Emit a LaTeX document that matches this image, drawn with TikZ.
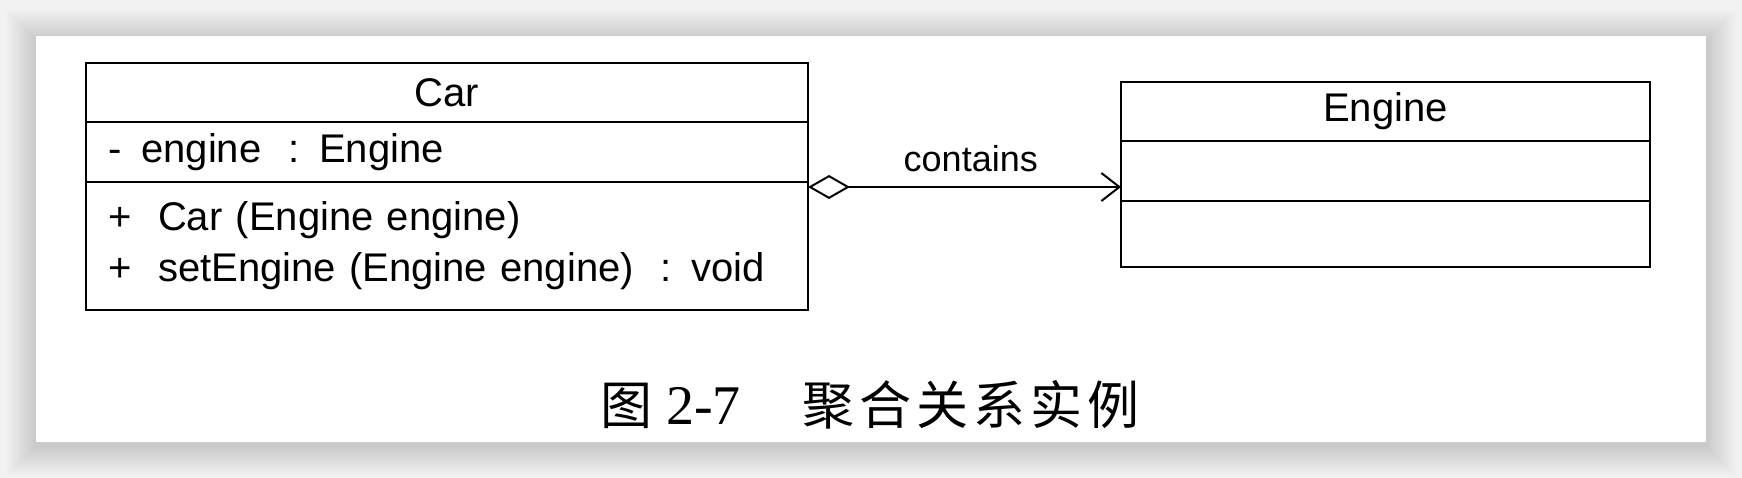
\documentclass[tikz,border=0pt]{standalone}
\usepackage{fontspec}
\setmainfont{Liberation Sans}
\newfontfamily\cjk{Noto Sans CJK SC}
\newfontfamily\capnum{Liberation Serif}
\usetikzlibrary{positioning,arrows.meta}

\newcommand{\cjkgap}{\hspace{5pt}}

\tikzset{
  umlpart/.style={draw, line width=2pt, outer sep=0pt, inner sep=0pt,
    font=\fontsize{40}{51}\selectfont},
  umlhead/.style={umlpart, minimum height=59pt},
  umlbody/.style={umlpart, align=left, inner xsep=22pt},
  aggr/.style={line width=2pt,
    {Diamond[open, fill=white, length=42pt, width=24pt]}-{Straight Barb[length=18pt, width=28pt]}}
}

\begin{document}
\begin{tikzpicture}[x=1pt, y=-1pt]
  % Page
  \useasboundingbox (0,0) rectangle (1742,478);
  \fill[black!5] (0,0) rectangle (1742,478);
  \foreach \r in {1,...,20} {
    \fill[black, opacity=0.009] (36-1.5*\r,36-1.5*\r+4) rectangle (1706+1.5*\r,442+1.5*\r+4);
  }
  \fill[white] (36,36) rectangle (1706,442);
  % Car
  \node[umlhead, minimum width=722pt, anchor=north west] (carhead) at (86,63) {Car};
  \node[umlbody, text width=678pt, minimum height=60pt, below=0pt of carhead] (carattr)
    {-\hspace{20pt}engine\ \ : Engine};
  \node[umlbody, text width=678pt, minimum height=128pt, below=0pt of carattr] (carops)
    {+\ \ Car (Engine engine)\\+\ \ setEngine (Engine engine)\ \ : void};
  % Engine
  \node[umlhead, minimum width=529pt, anchor=north west] (enghead) at (1121,82) {Engine};
  \node[umlbody, text width=485pt, minimum height=60pt, below=0pt of enghead] (engattr) {};
  \node[umlbody, text width=485pt, minimum height=66pt, below=0pt of engattr] (engops) {};
  % Aggregation
  \draw[aggr] ([yshift=-5]carops.north east) -- node[pos=0.52, above=11pt,
    font=\fontsize{36}{40}\selectfont] (contains) {contains}
    ([yshift=-5]carops.north east -| engattr.west);
  % Caption
  \node[font=\fontsize{52}{56}\selectfont] (caption) at (870,405)
    {{\cjk 图}\hspace{14pt}{\capnum\fontsize{56}{60}\selectfont 2-7}\hspace{62pt}%
     {\cjk 聚\cjkgap 合\cjkgap 关\cjkgap 系\cjkgap 实\cjkgap 例}};
\end{tikzpicture}
\end{document}
